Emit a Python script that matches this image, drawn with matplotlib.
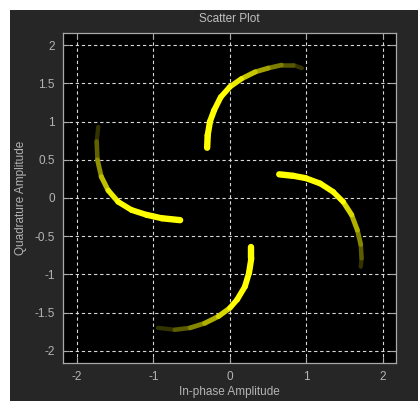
import numpy as np
import matplotlib
matplotlib.use("Agg")
import matplotlib.pyplot as plt
from matplotlib.collections import LineCollection
from matplotlib.patches import Rectangle
from matplotlib.ticker import FixedLocator, FuncFormatter

plt.rcParams['font.family'] = ['Liberation Sans', 'DejaVu Sans']
plt.rcParams['axes.unicode_minus'] = False

# Data (inner end first, outer/faded end last)
top_x = [-0.297, -0.29, -0.26, -0.205, -0.12, 0.0, 0.15, 0.33, 0.50, 0.675, 0.83, 0.94]
top_y = [0.658, 0.82, 1.0, 1.15, 1.32, 1.455, 1.56, 1.65, 1.70, 1.74, 1.74, 1.70]
left_x = [-0.65, -0.89, -1.09, -1.285, -1.46, -1.59, -1.68, -1.73, -1.74, -1.72]
left_y = [-0.29, -0.265, -0.22, -0.157, -0.05, 0.10, 0.28, 0.50, 0.74, 0.93]
right_x = [0.645, 0.83, 0.99, 1.18, 1.35, 1.48, 1.59, 1.665, 1.71, 1.72, 1.71]
right_y = [0.31, 0.29, 0.26, 0.19, 0.08, -0.05, -0.22, -0.42, -0.61, -0.79, -0.90]
bot_x = [0.28, 0.28, 0.25, 0.196, 0.095, 0.0, -0.15, -0.33, -0.52, -0.72, -0.94]
bot_y = [-0.64, -0.79, -0.98, -1.16, -1.33, -1.44, -1.55, -1.64, -1.70, -1.725, -1.70]

x_ticks = [-2, -1, 0, 1, 2]
y_ticks = [-2, -1.5, -1, -0.5, 0, 0.5, 1, 1.5, 2]

W, H = 418, 401
fig = plt.figure(figsize=(W / 100, H / 100), dpi=100, facecolor='white')

# dark panel
fig.patches.append(Rectangle((10 / W, 0), 1 - 10 / W, (H - 10) / H,
                             transform=fig.transFigure, facecolor='#262626',
                             edgecolor='none', zorder=-10))

ax = fig.add_axes([63 / W, (H - 363) / H, 333 / W, 330 / H])
ax.set_zorder(1)
ax.set_facecolor('black')
ax.set_xlim(-2.18, 2.17)
ax.set_ylim(-2.16, 2.16)

def draw_arc(xs, ys):
    pts = np.column_stack([xs, ys])
    segs = np.stack([pts[:-1], pts[1:]], axis=1)
    n = len(segs)
    t = np.arange(n) / max(n - 1, 1)
    bright = np.where(t < 0.45, 1.0, 1.0 - (t - 0.45) / 0.55 * 0.8)
    widths = 4.6 - 1.5 * t
    # opaque colours (yellow faded towards black) draw from the end to the start
    order = np.arange(n)[::-1]
    colors = [(bright[i], bright[i], 0.0, 1.0) for i in order]
    lc = LineCollection(segs[order], colors=colors, linewidths=widths[order],
                        capstyle='round', joinstyle='round', zorder=3)
    ax.add_collection(lc)

for xs, ys in [(top_x, top_y), (left_x, left_y), (right_x, right_y), (bot_x, bot_y)]:
    draw_arc(xs, ys)

ax.xaxis.set_major_locator(FixedLocator(x_ticks))
ax.yaxis.set_major_locator(FixedLocator(y_ticks))
fmt = FuncFormatter(lambda v, p: f"{v:g}")
ax.xaxis.set_major_formatter(fmt)
ax.yaxis.set_major_formatter(fmt)

ax.grid(True, color='#d8d8d8', linestyle=(0, (3, 2.5)), linewidth=0.8, zorder=1)
ax.set_axisbelow(True)
ax.tick_params(direction='in', length=4, width=0.8, colors='#a8a8a8',
               labelcolor='#b4b4b4', labelsize=8.5, top=True, right=True,
               pad=6)
for s in ax.spines.values():
    s.set_color('#a8a8a8')
    s.set_linewidth(0.9)

ax.set_title("Scatter Plot", color='#c0c0c0', fontsize=8.5, pad=8)
ax.set_xlabel("In-phase Amplitude", color='#b4b4b4', fontsize=8.5, labelpad=2)
ax.set_ylabel("Quadrature Amplitude", color='#b4b4b4', fontsize=8.5, labelpad=5)

fig.savefig("out.png", dpi=100, facecolor=fig.get_facecolor())
